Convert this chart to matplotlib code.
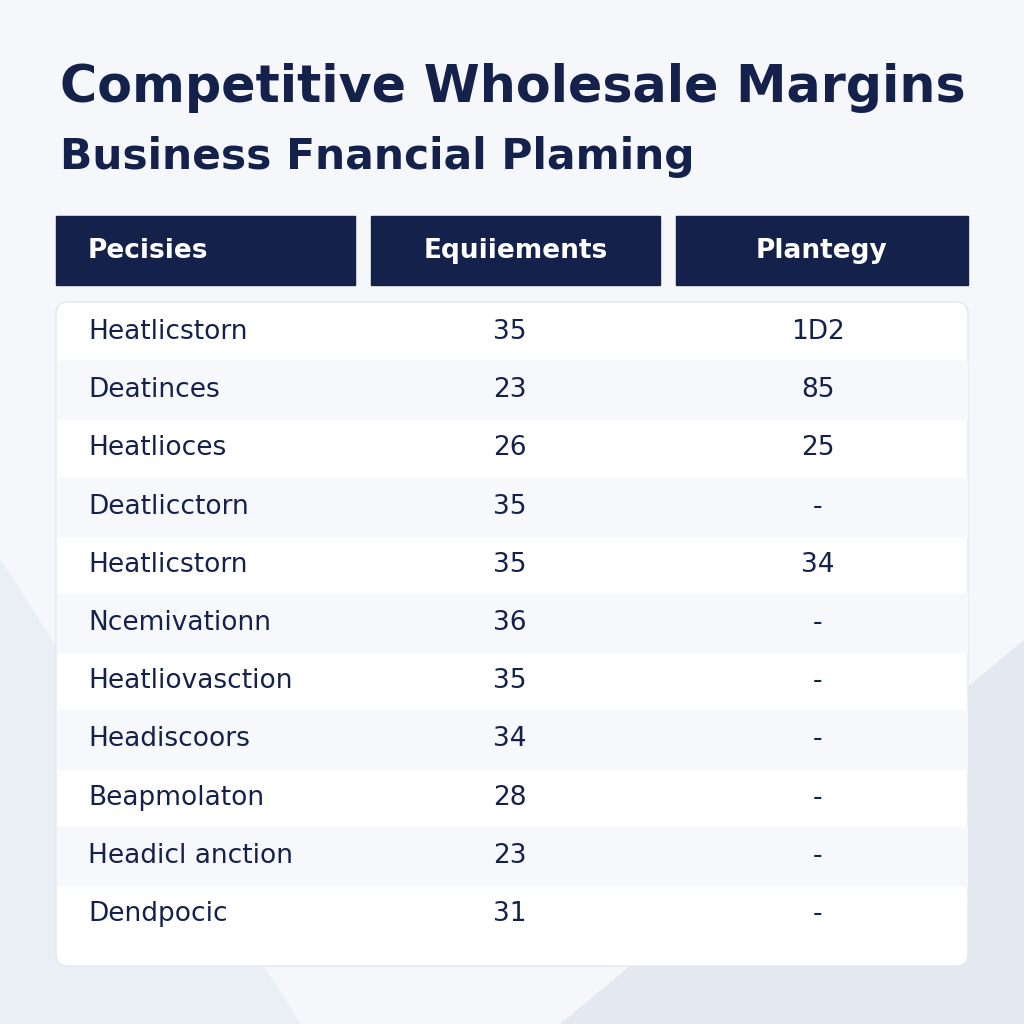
import matplotlib.pyplot as plt
from matplotlib.patches import FancyBboxPatch, Rectangle, Polygon

title = "Competitive Wholesale Margins"
subtitle = "Business Fnancial Plaming"
headers = ["Pecisies", "Equiiements", "Plantegy"]
names = ["Heatlicstorn", "Deatinces", "Heatlioces", "Deatlicctorn", "Heatlicstorn",
         "Ncemivationn", "Heatliovasction", "Headiscoors", "Beapmolaton",
         "Headicl anction", "Dendpocic"]
equip = ["35", "23", "26", "35", "35", "36", "35", "34", "28", "23", "31"]
plan = ["1D2", "85", "25", "-", "34", "-", "-", "-", "-", "-", "-"]

navy = "#14214a"
fig = plt.figure(figsize=(10.24, 10.24), dpi=100)
ax = fig.add_axes([0, 0, 1, 1])
ax.set_xlim(0, 1024)
ax.set_ylim(1024, 0)
ax.axis("off")
fig.patch.set_facecolor("#f5f7fb")

# soft background shapes
ax.add_patch(Polygon([[0, 560], [300, 1024], [0, 1024]], color="#eaeef5", zorder=0))
ax.add_patch(Polygon([[1024, 640], [1024, 1024], [560, 1024]], color="#e3e8f1", zorder=0))

ax.text(60, 88, title, fontsize=36.5, fontweight="bold", color=navy, va="center")
ax.text(60, 157, subtitle, fontsize=30.5, fontweight="bold", color=navy, va="center")

# header boxes
cols = [(56, 355), (371, 660), (676, 968)]
for (x0, x1), h, i in zip(cols, headers, range(3)):
    ax.add_patch(Rectangle((x0, 216), x1 - x0, 69, color=navy, zorder=2))
    tx = 88 if i == 0 else (x0 + x1) / 2
    ax.text(tx, 251, h, color="white", fontsize=19, fontweight="bold",
            ha="left" if i == 0 else "center", va="center", zorder=3)

# table panel
ax.add_patch(FancyBboxPatch((56, 302), 912, 664, boxstyle="round,pad=0,rounding_size=12",
                            fc="white", ec="#e3e7ee", lw=1, zorder=1))
row_h = 58.2
for i, (n, e, p) in enumerate(zip(names, equip, plan)):
    yc = 332 + i * row_h
    if i % 2 == 1:
        ax.add_patch(Rectangle((57, yc - row_h / 2), 910, row_h, color="#f6f8fb", zorder=1.5))
    ax.text(88, yc, n, fontsize=19, color=navy, va="center", zorder=3, fontweight="medium")
    ax.text(510, yc, e, fontsize=19, color=navy, va="center", ha="center", zorder=3)
    ax.text(818, yc, p, fontsize=19, color=navy, va="center", ha="center", zorder=3)

fig.savefig("out.png", dpi=100)
